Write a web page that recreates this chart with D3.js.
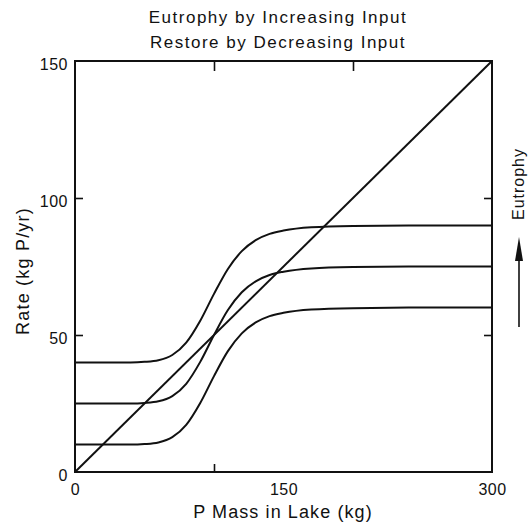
<!DOCTYPE html>
<html>
<head>
<meta charset="utf-8">
<script src="https://cdn.jsdelivr.net/npm/d3@7"></script>
<style>
  body { margin: 0; background: #fff; }
  text { font-family: "Liberation Sans", Arial, sans-serif; fill: #111; }
</style>
</head>
<body>
<div id="chart"></div>
<script>
// values
const titleLines = ["Eutrophy by Increasing Input", "Restore by Decreasing Input"];
const xLabel = "P Mass in Lake (kg)";
const yLabel = "Rate (kg P/yr)";
const sideLabel = "Eutrophy";

const xTickLabels = [0, 150, 300];
const yTickLabels = [0, 50, 100, 150];
const xInnerTicksTop = [100, 200];
const xInnerTicksBottom = [100];
const yInnerTicks = [50, 100];

// P mass (kg)
const pMass = [0, 40, 50, 60, 70, 80, 90, 100, 110, 120, 130, 140, 150, 170, 200, 250, 300];
// recycling + input curves (kg P/yr)
const highInput = [40, 40, 40.2, 40.8, 42.7, 47.2, 55.1, 65, 74.1, 80.6, 84.6, 86.9, 88.1, 89.3, 89.8, 90, 90];
const midInput  = [25, 25, 25.2, 25.8, 27.7, 32.2, 40.1, 50, 59.1, 65.6, 69.6, 71.9, 73.1, 74.3, 74.8, 75, 75];
const lowInput  = [10, 10, 10.2, 10.8, 12.7, 17.2, 25.1, 35, 44.1, 50.6, 54.6, 56.9, 58.1, 59.3, 59.8, 60, 60];
// loss line (sedimentation + outflow)
const lossX = [0, 300];
const lossY = [0, 150];

const W = 531, H = 526;
const margin = {top: 61, right: 39, bottom: 54, left: 75};
const width = W - margin.left - margin.right;
const height = H - margin.top - margin.bottom;

const svg = d3.select("#chart")
  .append("svg")
  .attr("width", W)
  .attr("height", H);

const g = svg.append("g")
  .attr("transform", `translate(${margin.left},${margin.top})`);

const x = d3.scaleLinear().domain([0, 300]).range([0, width]);
const y = d3.scaleLinear().domain([0, 150]).range([height, 0]);

// title
svg.append("text")
  .attr("x", 278)
  .attr("text-anchor", "middle")
  .style("font-size", "17px")
  .style("letter-spacing", "1.5px")
  .selectAll("tspan")
  .data(titleLines)
  .enter()
  .append("tspan")
  .attr("x", 278)
  .attr("y", (d, i) => 23 + i * 25)
  .text(d => d);

// frame
g.append("rect")
  .attr("x", 0).attr("y", 0)
  .attr("width", width).attr("height", height)
  .attr("fill", "none")
  .attr("stroke", "#111")
  .attr("stroke-width", 2);

// inner ticks
g.append("g")
  .call(d3.axisBottom(x).tickValues(xInnerTicksTop).tickSize(10).tickFormat(""))
  .call(a => a.select(".domain").remove())
  .selectAll("line").attr("stroke", "#111").attr("stroke-width", 1.6);
g.append("g")
  .attr("transform", `translate(0,${height})`)
  .call(d3.axisTop(x).tickValues(xInnerTicksBottom).tickSize(8).tickFormat(""))
  .call(a => a.select(".domain").remove())
  .selectAll("line").attr("stroke", "#111").attr("stroke-width", 1.6);
g.append("g")
  .call(d3.axisRight(y).tickValues(yInnerTicks).tickSize(8).tickFormat(""))
  .call(a => a.select(".domain").remove())
  .selectAll("line").attr("stroke", "#111").attr("stroke-width", 1.6);
g.append("g")
  .attr("transform", `translate(${width},0)`)
  .call(d3.axisLeft(y).tickValues(yInnerTicks).tickSize(8).tickFormat(""))
  .call(a => a.select(".domain").remove())
  .selectAll("line").attr("stroke", "#111").attr("stroke-width", 1.6);

// tick labels
const xAx = g.append("g")
  .attr("transform", `translate(0,${height})`)
  .call(d3.axisBottom(x).tickValues(xTickLabels).tickSize(0).tickPadding(12))
  .call(a => a.select(".domain").remove());
xAx.selectAll("text")
  .style("font-family", "Liberation Sans, Arial, sans-serif")
  .style("font-size", "16px")
  .style("letter-spacing", "0.5px")
  .attr("fill", "#111");

const yAx = g.append("g")
  .call(d3.axisLeft(y).tickValues(yTickLabels).tickSize(0).tickPadding(7))
  .call(a => a.select(".domain").remove());
yAx.selectAll("text")
  .style("font-family", "Liberation Sans, Arial, sans-serif")
  .style("font-size", "16px")
  .style("letter-spacing", "0.5px")
  .attr("dy", "0.5em")
  .attr("fill", "#111");

// axis titles
svg.append("text")
  .attr("x", 283)
  .attr("y", 518)
  .attr("text-anchor", "middle")
  .style("font-size", "18px")
  .style("letter-spacing", "1.1px")
  .text(xLabel);

svg.append("text")
  .attr("transform", "translate(29,271) rotate(-90)")
  .attr("text-anchor", "middle")
  .style("font-size", "18px")
  .style("letter-spacing", "1.2px")
  .text(yLabel);

// curves
const line = d3.line()
  .x(d => x(d[0]))
  .y(d => y(d[1]))
  .curve(d3.curveMonotoneX);

[highInput, midInput, lowInput].forEach(series => {
  g.append("path")
    .datum(pMass.map((p, i) => [p, series[i]]))
    .attr("d", line)
    .attr("fill", "none")
    .attr("stroke", "#111")
    .attr("stroke-width", 2);
});

g.append("path")
  .datum(lossX.map((p, i) => [p, lossY[i]]))
  .attr("d", d3.line().x(d => x(d[0])).y(d => y(d[1])))
  .attr("fill", "none")
  .attr("stroke", "#111")
  .attr("stroke-width", 2);

// "Eutrophy" arrow on the right
const ax = margin.left + width + 27;
svg.append("line")
  .attr("x1", ax).attr("x2", ax)
  .attr("y1", 327).attr("y2", 250)
  .attr("stroke", "#111")
  .attr("stroke-width", 1.6);
svg.append("path")
  .attr("d", `M${ax},237 L${ax - 4},261 L${ax + 4},261 Z`)
  .attr("fill", "#111");
svg.append("text")
  .attr("transform", `translate(${ax + 5},184) rotate(-90)`)
  .attr("text-anchor", "middle")
  .style("font-size", "16px")
  .style("letter-spacing", "1px")
  .text(sideLabel);
</script>
</body>
</html>
